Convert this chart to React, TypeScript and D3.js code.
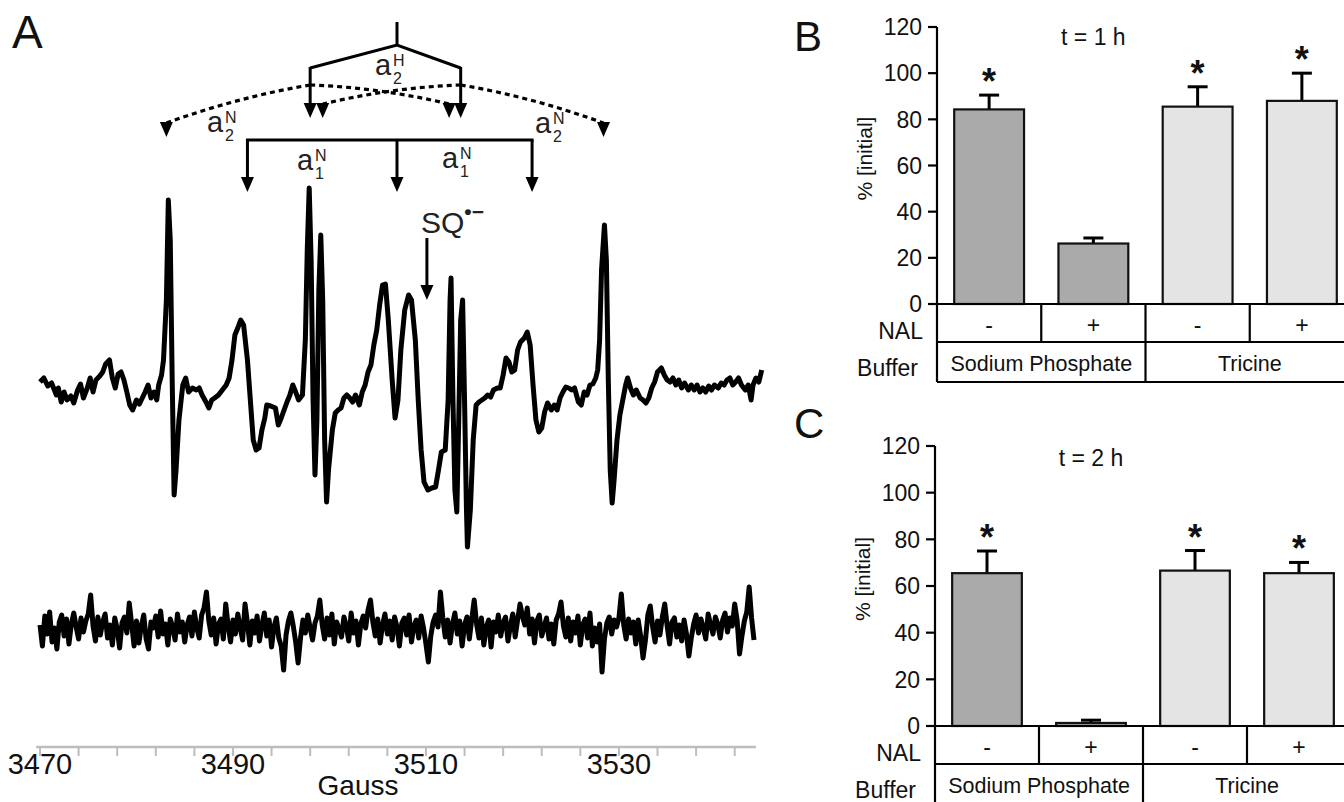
import React from 'react';
import * as d3 from 'd3';

const FONT = '"Liberation Sans", Arial, Helvetica, sans-serif';

// ---- panel A: EPR spectrum of SQ radical (gauss, signal in arbitrary units)
const sqSpectrum: [number, number][] = [
  [3470.0, 0.1], [3470.4, 0.5], [3470.8, -0.3], [3471.2, 0], [3471.7, -1.2], [3471.9, -0.5],
  [3472.2, -1.9], [3472.5, -0.9], [3472.8, -1.7], [3473.2, -1.3], [3473.5, -2.0], [3473.9, -0.7],
  [3474.2, -0.1], [3474.5, -1.5], [3474.9, -0.5], [3475.2, 0.5], [3475.5, -0.9], [3475.8, 0.3],
  [3476.2, 0.7], [3476.5, 1.1], [3476.8, 1.9], [3477.2, 2.3], [3477.5, 0.5], [3477.8, -0.5],
  [3478.1, 0.9], [3478.4, 1.1], [3478.7, 0.3], [3479.0, -0.9], [3479.3, -2.2], [3479.6, -2.7],
  [3480.0, -1.7], [3480.3, -2.1], [3480.6, -1.5], [3480.9, -0.9], [3481.2, -0.2], [3481.5, -1.5],
  [3481.8, -0.9], [3482.1, -1.7], [3482.3, -0.2], [3482.6, 0.8], [3482.8, 2.3], [3483.1, 8.3],
  [3483.3, 18.3], [3483.5, 14.3], [3483.7, 0.3], [3483.9, -11.2], [3484.1, -8.7], [3484.4, -3.7],
  [3484.8, -0.2], [3485.1, 0.5], [3485.4, -0.9], [3485.8, -0.5], [3486.2, -0.7], [3486.5, -0.5],
  [3486.8, -1.2], [3487.2, -1.9], [3487.5, -2.5], [3487.8, -1.7], [3488.1, -1.5], [3488.5, -1.2],
  [3488.9, -0.7], [3489.3, -0.2], [3489.6, 0.5], [3489.9, 2.3], [3490.2, 4.8], [3490.5, 5.5],
  [3490.8, 6.3], [3491.1, 5.8], [3491.5, 2.3], [3491.8, -1.7], [3492.1, -5.7], [3492.4, -6.7],
  [3492.7, -6.5], [3493.0, -4.7], [3493.3, -3.5], [3493.5, -2.2], [3493.9, -2.3], [3494.4, -2.5],
  [3494.7, -4.2], [3495.0, -3.5], [3495.3, -2.7], [3495.6, -1.9], [3495.9, -1.2], [3496.2, -0.2],
  [3496.5, -0.9], [3496.8, -1.7], [3497.2, -1.2], [3497.5, 4.3], [3497.7, 13.3], [3497.9, 19.5],
  [3498.1, 12.3], [3498.3, -1.7], [3498.5, -9.2], [3498.7, -3.7], [3498.9, 9.3], [3499.1, 14.8],
  [3499.3, 8.3], [3499.5, -5.7], [3499.7, -11.9], [3499.9, -8.7], [3500.3, -4.7], [3500.6, -3.0],
  [3500.9, -2.7], [3501.2, -2.5], [3501.5, -1.5], [3501.8, -1.2], [3502.1, -1.5], [3502.4, -1.9],
  [3502.7, -1.2], [3503.1, -2.2], [3503.4, -0.9], [3503.7, -0.2], [3504.0, 1.1], [3504.3, 1.8],
  [3504.6, 3.8], [3504.9, 5.3], [3505.2, 7.8], [3505.5, 9.8], [3505.8, 9.9], [3506.1, 6.3],
  [3506.5, 0.3], [3506.8, -3.5], [3507.1, -1.7], [3507.4, 3.3], [3507.8, 7.3], [3508.2, 8.8],
  [3508.5, 8.3], [3508.9, 4.3], [3509.2, -1.7], [3509.5, -6.7], [3509.8, -9.9], [3510.2, -10.7],
  [3510.6, -10.5], [3511.0, -10.4], [3511.3, -8.7], [3511.6, -6.9], [3512.0, -6.7], [3512.3, -1.7],
  [3512.5, 8.3], [3512.6, 10.5], [3512.8, -1.7], [3513.0, -10.7], [3513.2, -12.9], [3513.4, -3.7],
  [3513.6, 6.3], [3513.8, 8.3], [3514.0, -1.7], [3514.2, -12.7], [3514.3, -16.4], [3514.6, -12.7],
  [3514.9, -5.7], [3515.2, -2.2], [3515.5, -1.9], [3515.8, -1.7], [3516.1, -1.5], [3516.4, -1.2],
  [3516.7, -1.4], [3517.0, -0.7], [3517.4, -0.5], [3517.7, -0.5], [3518.0, 0.8], [3518.3, 2.5],
  [3518.6, 2.1], [3518.9, 1.1], [3519.2, 1.3], [3519.5, 3.3], [3519.8, 4.1], [3520.2, 4.5],
  [3520.5, 5.1], [3520.8, 3.8], [3521.1, -0.2], [3521.4, -3.7], [3521.7, -4.9], [3522.0, -4.5],
  [3522.3, -2.9], [3522.6, -2.0], [3523.0, -2.7], [3523.3, -2.2], [3523.6, -2.7], [3523.9, -1.5],
  [3524.2, -0.9], [3524.5, -0.4], [3524.8, -0.5], [3525.1, -0.7], [3525.4, -0.5], [3525.8, -1.9],
  [3526.1, -2.2], [3526.4, -0.9], [3526.7, -1.2], [3527.0, -0.2], [3527.3, -0.1], [3527.6, 0.5],
  [3527.8, 1.3], [3528.0, 4.3], [3528.2, 11.3], [3528.5, 15.8], [3528.7, 12.3], [3528.9, 0.3],
  [3529.1, -8.7], [3529.3, -12.0], [3529.5, -9.7], [3529.8, -5.7], [3530.1, -3.2], [3530.4, -1.7],
  [3530.7, -0.2], [3530.9, 0.5], [3531.2, -0.5], [3531.5, -1.2], [3531.8, -0.7], [3532.2, -1.5],
  [3532.5, -1.7], [3532.8, -2.0], [3533.1, -1.5], [3533.4, -0.5], [3533.7, 0.1], [3534.0, 1.1],
  [3534.4, 1.5], [3534.7, 0.8], [3535.0, 0.3], [3535.3, 0.1], [3535.6, 0.5], [3535.9, -0.2],
  [3536.2, 0.3], [3536.5, -0.5], [3536.8, 0], [3537.2, -0.7], [3537.5, -0.2], [3537.8, -0.7],
  [3538.1, -0.2], [3538.4, -0.9], [3538.7, -0.5], [3539.0, -0.9], [3539.3, -0.3], [3539.6, -0.7],
  [3539.9, -0.2], [3540.3, -0.5], [3540.6, 0], [3540.9, -0.2], [3541.2, 0.3], [3541.5, 0.5],
  [3541.8, -0.2], [3542.1, 0.1], [3542.4, 0.5], [3542.7, -0.2], [3543.1, -0.7], [3543.4, -0.2],
  [3543.7, -1.7], [3543.9, -0.2], [3544.2, 0.5], [3544.5, 0.1], [3544.8, 1.3],
];

// control trace, sampled every 0.25 G from 3470 G
const controlStart = 3470;
const controlStep = 0.25;
const controlSignal = [
  0.5, -1.6, 1.4, -0.4, 1.8, -1.2, 0.2, -1.9, 0.8, 1.5, -0.6, 1.1, -1.4, 0.6, 1.7, 0.3, -0.9, 1.2, -0.2, 0.9,
  1.6, 3.5, 0.4, -1.1, 1.3, -0.5, 0.8, 1.6, -0.8, 0.5, -1.5, 1.2, 0.1, -1.8, 0.7, 1.3, -0.3, 2.7, 0.6, -1.6,
  0.9, -1.3, 0.4, 1.5, -0.9, -1.9, 0.8, 0.2, 1.4, -0.7, 1.9, -0.4, 0.6, -1.5, 1.1, 0.3, -1.0, 1.6, -0.2, 0.8,
  -1.2, 0.5, 1.3, -0.6, 1.8, 0.2, -0.8, 1.5, 2.2, 3.8, 0.9, -0.5, 1.2, -1.4, 0.6, 1.1, -0.9, 2.6, 0.4, -1.2,
  1.0, -0.4, 1.6, 0.2, -1.0, 2.6, 0.7, -1.5, 0.9, -0.3, 1.4, -1.1, 0.5, 1.7, -0.6, 1.0, -1.7, 0.3, 1.2, -0.8,
  -1.6, -4.0, -0.5, 0.9, 1.7, 0.4, -1.2, -3.3, -0.8, 1.0, -0.3, 1.5, 0.2, -1.0, 0.7, 1.4, 3.0, 0.5, -0.9, 1.2,
  -0.5, 1.6, -1.4, 0.8, 0.1, -0.7, 1.3, 0.4, -1.1, 1.7, -0.3, 0.9, -1.5, 0.6, 1.4, 0.2, 2.0, 3.0, 0.8, -0.6,
  1.1, -1.3, 0.5, 1.6, -0.4, 0.9, -1.0, 1.3, 0.3, -1.6, 0.7, 1.2, -0.5, 1.5, -1.2, 0.4, 1.0, -0.8, 1.4, 0.2,
  -1.4, -3.2, -0.6, 0.8, 1.5, 0.3, 3.8, 1.2, -0.7, 1.0, -1.3, 0.6, 1.7, -0.4, 0.9, -1.6, 0.5, 1.3, -0.9, 1.1,
  3.0, 0.6, -0.8, 1.2, -1.5, 0.3, 1.0, -1.7, 0.8, -0.2, 1.5, -0.6, 0.7, 1.3, -1.1, 0.4, 1.6, -0.7, 1.0, 2.6,
  1.4, 0.5, 2.2, -0.4, 1.1, -1.3, 0.9, 1.5, -0.6, 0.3, 1.2, -0.9, 0.6, -1.4, 1.0, 1.6, 2.8, 0.4, -0.7, 1.2,
  -1.1, 0.8, -0.3, 1.4, -1.5, 0.5, 1.1, -0.8, 1.7, -1.6, 0.2, -1.2, 0.6, -4.2, -0.9, 0.7, 1.3, -0.4, 1.0, 0.3,
  1.2, 3.6, 0.5, -0.9, 1.1, -0.3, 0.8, -1.4, 1.0, -0.6, -2.8, -1.0, 1.5, 2.4, 0.3, -1.2, 0.9, -0.5, 1.3, 2.6,
  0.4, -1.4, 0.8, 1.2, -0.7, 0.5, -1.1, 1.0, -0.4, -2.6, -0.8, 0.6, 1.5, -0.3, 1.1, 0.2, -0.9, 1.6, 0.5, -0.4,
  1.3, 0.6, -0.8, 1.0, 1.7, -0.2, 1.2, 0.4, 2.6, 1.0, -2.4, -0.6, 0.9, 1.8, 4.3, 1.2, -1.0,
];

const gaussTicks = d3.range(3470, 3545, 4);
const gaussLabels = [3470, 3490, 3510, 3530];

// stick diagram positions (gauss)
const centerField = 3507.0;
const hydrogenLines = [3498.0, 3513.6];
const nitrogen1Lines = [3491.5, 3507.0, 3521.0];
const nitrogen2Inner = [3512.4, 3499.3]; // from each hydrogen line, inward
const nitrogen2Outer = [3483.1, 3528.4]; // from each hydrogen line, outward
const sqField = 3510.1;

// ---- panels B and C: % [initial]
const nalLabels = ['-', '+', '-', '+'];
const bufferLabels = ['Sodium Phosphate', 'Tricine'];
const barFills = ['#aaaaaa', '#aaaaaa', '#e4e4e4', '#e4e4e4'];
const yTicks = [0, 20, 40, 60, 80, 100, 120];

const oneHourMean = [84.3, 26.2, 85.5, 88.0];
const oneHourErr = [6.2, 2.4, 8.6, 12.0];
const oneHourStar = [true, false, true, true];

const twoHourMean = [65.5, 1.3, 66.6, 65.5];
const twoHourErr = [9.5, 1.2, 8.6, 4.6];
const twoHourStar = [true, false, true, true];

const Arrow = ({ x, y1, tip }: any) => (
  <g>
    <line x1={x} y1={y1} x2={x} y2={tip - 12} stroke="#000" strokeWidth={3} />
    <path d={`M${x - 6.5},${tip - 15} L${x + 6.5},${tip - 15} L${x},${tip} Z`} fill="#000" />
  </g>
);

const HfLabel = ({ x, y, sup, sub }: any) => (
  <g fontFamily={FONT} fill="#222">
    <text x={x} y={y} fontSize={29}>a</text>
    <text x={x + 18} y={y - 9} fontSize={16}>{sup}</text>
    <text x={x + 18} y={y + 9} fontSize={16}>{sub}</text>
  </g>
);

function SpectrumPanel() {
  const x = d3.scaleLinear().domain([3470, 3544]).range([40, 754]);
  const ySq = d3.scaleLinear().domain([-20, 20]).range([583, 183]);
  const yCtrl = d3.scaleLinear().domain([-20, 20]).range([830, 430]);

  const sqLine = d3.line<[number, number]>().x(d => x(d[0])).y(d => ySq(d[1]));
  const ctrlPts: [number, number][] = controlSignal.map((v, i) => [controlStart + i * controlStep, v]);
  const ctrlLine = d3.line<[number, number]>().x(d => x(d[0])).y(d => yCtrl(d[1]));

  const axisY = 747;
  const junctionY = 85;

  // dashed branch from a hydrogen line to an a_N2 line
  const branch = (from: number, to: number, endY: number) => {
    const x0 = x(from), x1 = x(to);
    const mx = (x0 + x1) / 2;
    const my = (junctionY + endY) / 2 - 7;
    return `M${x0},${junctionY} Q${mx},${my} ${x1},${endY}`;
  };
  const head = (gx: number, tip: number) =>
    `M${x(gx) - 6.5},${tip - 15} L${x(gx) + 6.5},${tip - 15} L${x(gx)},${tip} Z`;

  return (
    <g>
      <text x={12} y={48} fontSize={46} fontFamily={FONT} fill="#111">A</text>

      {/* stick diagram */}
      <line x1={x(centerField)} y1={22} x2={x(centerField)} y2={45} stroke="#000" strokeWidth={3} />
      <polyline
        points={`${x(hydrogenLines[0])},68 ${x(centerField)},45 ${x(hydrogenLines[1])},68`}
        fill="none" stroke="#000" strokeWidth={3} strokeLinejoin="miter" />
      {hydrogenLines.map(h => <Arrow key={h} x={x(h)} y1={67} tip={118} />)}
      {hydrogenLines.map((h, i) => (
        <g key={'b' + h}>
          <path d={branch(h, nitrogen2Inner[i], 104)} fill="none" stroke="#000" strokeWidth={3.2} strokeDasharray="5,4" />
          <path d={branch(h, nitrogen2Outer[i], 123)} fill="none" stroke="#000" strokeWidth={3.2} strokeDasharray="5,4" />
          <path d={head(nitrogen2Inner[i], 118)} fill="#000" />
          <path d={head(nitrogen2Outer[i], 137)} fill="#000" />
        </g>
      ))}
      <line x1={x(nitrogen1Lines[0]) - 1.5} y1={140} x2={x(nitrogen1Lines[2]) + 1.5} y2={140} stroke="#000" strokeWidth={3} />
      {nitrogen1Lines.map(n => <Arrow key={n} x={x(n)} y1={140} tip={192} />)}

      <HfLabel x={375} y={75} sup="H" sub="2" />
      <HfLabel x={207} y={132} sup="N" sub="2" />
      <HfLabel x={535} y={133} sup="N" sub="2" />
      <HfLabel x={297} y={170} sup="N" sub="1" />
      <HfLabel x={442} y={168} sup="N" sub="1" />

      {/* SQ radical marker */}
      <text x={421} y={233} fontSize={30} fontFamily={FONT} fill="#222">
        SQ<tspan dy={-14} fontSize={21} fontWeight="bold">{'\u2022\u2212'}</tspan>
      </text>
      <Arrow x={x(sqField)} y1={238} tip={300} />

      {/* traces */}
      <path d={sqLine(sqSpectrum) || ''} fill="none" stroke="#000" strokeWidth={5} strokeLinejoin="round" />
      <path d={ctrlLine(ctrlPts) || ''} fill="none" stroke="#000" strokeWidth={5} strokeLinejoin="round" />

      {/* field axis */}
      <line x1={x(3469.6)} y1={axisY} x2={x(3544.2)} y2={axisY} stroke="#bdbdbd" strokeWidth={2.5} />
      {gaussTicks.map(t => (
        <line key={t} x1={x(t)} y1={axisY} x2={x(t)} y2={axisY + 9} stroke="#bdbdbd" strokeWidth={2} />
      ))}
      {gaussLabels.map(t => (
        <text key={t} x={x(t)} y={774} textAnchor="middle" fontSize={29} fontFamily={FONT} fill="#111">{t}</text>
      ))}
      <text x={358} y={795} textAnchor="middle" fontSize={28} fontFamily={FONT} fill="#111">Gauss</text>
    </g>
  );
}

function BarPanel({ letter, letterY, title, titleY, axisX, rangeEnd, yZero, yTop, mean, err, star }: any) {
  const x = d3.scaleBand<number>().domain(d3.range(mean.length)).range([axisX, rangeEnd])
    .paddingInner(0.33).paddingOuter(0.165);
  const y = d3.scaleLinear().domain([0, 120]).range([yZero, yTop]);
  const step = x.step();
  const bw = x.bandwidth();
  const cellLeft = (i: number) => (x(i) as number) + bw / 2 - step / 2;
  const row1 = yZero + 38;
  const row2 = row1 + 40;
  const lw = 2.2;

  return (
    <g fontFamily={FONT} fill="#111">
      <text x={794} y={letterY} fontSize={42}>{letter}</text>
      <text x={cellLeft(1) + step / 2} y={titleY} textAnchor="middle" fontSize={23}>{title}</text>
      <text transform={`translate(${axisX - 65},${y(63)}) rotate(-90)`} textAnchor="middle" fontSize={21}>% [initial]</text>

      {/* bars */}
      {mean.map((m: number, i: number) => {
        const cx = (x(i) as number) + bw / 2;
        const top = y(m + err[i]);
        return (
          <g key={i}>
            <line x1={cx} y1={y(m)} x2={cx} y2={top} stroke="#000" strokeWidth={3} />
            <line x1={cx - 10} y1={top} x2={cx + 10} y2={top} stroke="#000" strokeWidth={3} />
            <rect x={x(i)} y={y(m)} width={bw} height={yZero - y(m)} fill={barFills[i]} stroke="#111" strokeWidth={2.2} />
            {star[i] && (
              <text x={cx} y={top - 1} textAnchor="middle" fontSize={36} fontWeight="bold">*</text>
            )}
          </g>
        );
      })}

      {/* y axis */}
      <line x1={axisX} y1={yTop} x2={axisX} y2={row2} stroke="#000" strokeWidth={lw} />
      {yTicks.map(t => (
        <g key={t}>
          <line x1={axisX - 9} y1={y(t)} x2={axisX} y2={y(t)} stroke="#000" strokeWidth={lw} />
          <text x={axisX - 15} y={y(t)} dy="0.36em" textAnchor="end" fontSize={23}>{t}</text>
        </g>
      ))}

      {/* category table */}
      <line x1={axisX} y1={yZero} x2={rangeEnd} y2={yZero} stroke="#000" strokeWidth={lw} />
      <line x1={axisX} y1={row1} x2={rangeEnd} y2={row1} stroke="#000" strokeWidth={lw} />
      <line x1={axisX} y1={row2} x2={rangeEnd} y2={row2} stroke="#000" strokeWidth={lw} />
      {[1, 2, 3].map(i => (
        <line key={i} x1={cellLeft(i)} y1={yZero} x2={cellLeft(i)} y2={row1} stroke="#000" strokeWidth={lw} />
      ))}
      <line x1={cellLeft(2)} y1={row1} x2={cellLeft(2)} y2={row2} stroke="#000" strokeWidth={lw} />
      {nalLabels.map((s, i) => (
        <text key={i} x={cellLeft(i) + step / 2} y={yZero + 29} textAnchor="middle" fontSize={23}>{s}</text>
      ))}
      {bufferLabels.map((s, i) => (
        <text key={s} x={cellLeft(i * 2) + step} y={yZero + 67} textAnchor="middle" fontSize={21.5}>{s}</text>
      ))}
      <text x={axisX - 14} y={yZero + 35} textAnchor="end" fontSize={23}>NAL</text>
      <text x={axisX - 19} y={yZero + 72} textAnchor="end" fontSize={23}>Buffer</text>
    </g>
  );
}

export default function App() {
  return (
    <svg width={1344} height={802} style={{ position: 'absolute', left: 0, top: 0, background: '#fff' }}>
      <rect width={1344} height={802} fill="#fff" />
      <SpectrumPanel />
      <BarPanel letter="B" letterY={51} title="t = 1 h" titleY={45} axisX={937} rangeEnd={1354}
        yZero={304} yTop={27} mean={oneHourMean} err={oneHourErr} star={oneHourStar} />
      <BarPanel letter="C" letterY={438} title="t = 2 h" titleY={466} axisX={935} rangeEnd={1351}
        yZero={726} yTop={446} mean={twoHourMean} err={twoHourErr} star={twoHourStar} />
    </svg>
  );
}
